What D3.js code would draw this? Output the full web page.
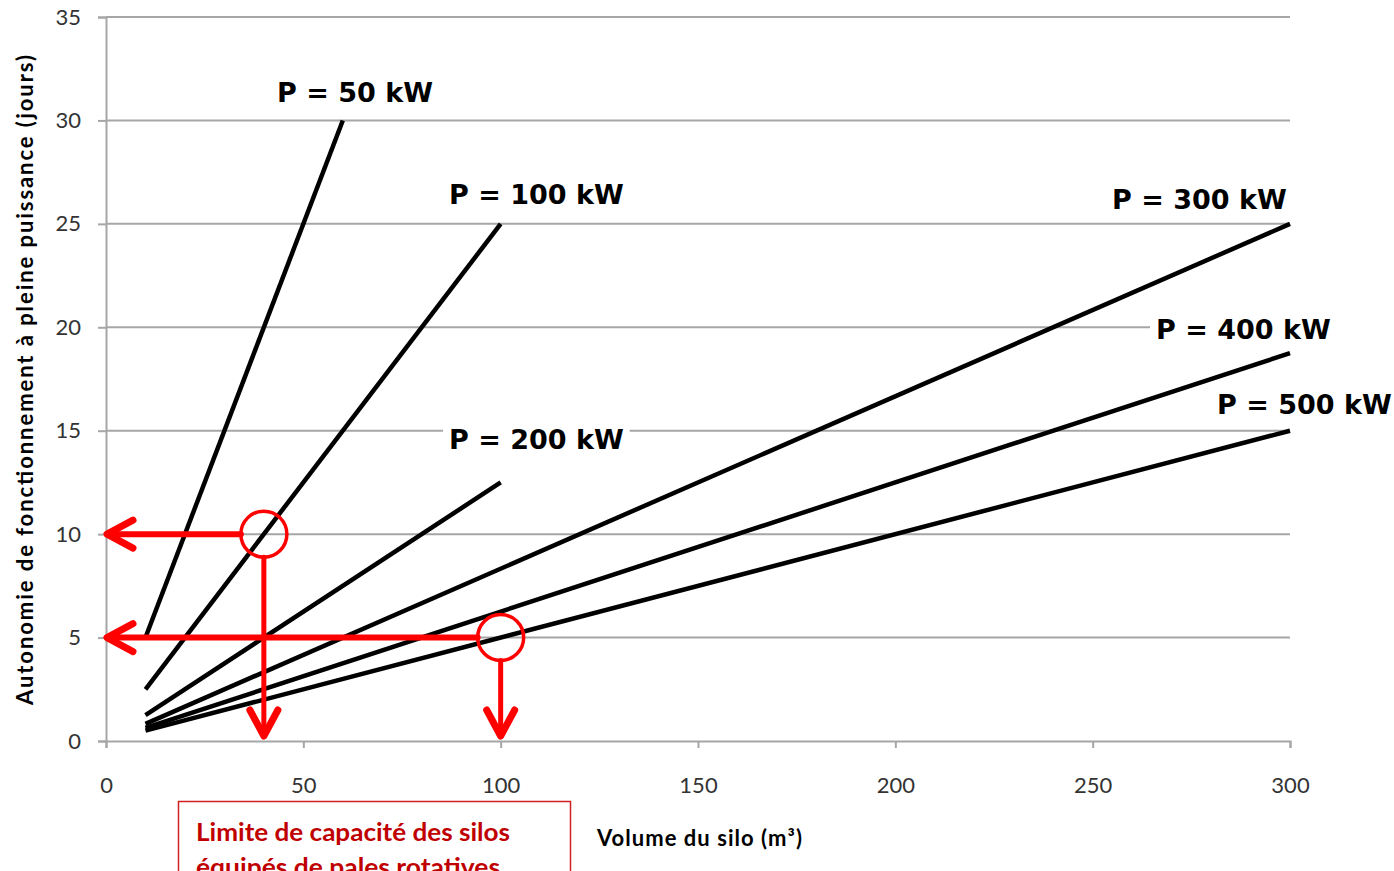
<!DOCTYPE html>
<html>
<head>
<meta charset="utf-8">
<script src="https://cdn.jsdelivr.net/npm/d3@7"></script>
<style>
  body { margin: 0; background: #fff; }
  svg { display: block; }
</style>
</head>
<body>
<div id="chart"></div>
<script>

// data
let powerLabels = ["P = 50 kW", "P = 100 kW", "P = 200 kW", "P = 300 kW", "P = 400 kW", "P = 500 kW"];
let volumeStart = [10, 10, 10, 10, 10, 10];
let volumeEnd   = [60, 100, 100, 300, 300, 300];
let daysStart   = [5, 2.5, 1.25, 0.83, 0.63, 0.5];
let daysEnd     = [30, 25, 12.5, 25, 18.75, 15];

let xTicks = [0, 50, 100, 150, 200, 250, 300];
let yTicks = [0, 5, 10, 15, 20, 25, 30, 35];

// red reading examples: [volume, days]
let readVolume = [40, 100];
let readDays   = [10, 5];

let boxLines = ["Limite de capacité des silos", "équipés de pales rotatives"];

function main(){

    let width = 1394;
    let height = 871;

    let svg = d3.select("#chart")
                .append("svg")
                .attr("width", width)
                .attr("height", height)

    let xScale = d3.scaleLinear().domain([0, 300]).range([106, 1290])
    let yScale = d3.scaleLinear().domain([0, 35]).range([741, 17])

    let grey = "#a6a6a6"
    let tickFont = "Lato, 'Open Sans', sans-serif"

    // horizontal grid
    svg.append("g")
        .selectAll("line")
        .data(yTicks.filter(d => d > 0))
        .enter()
        .append("line")
        .attr("x1", xScale(0))
        .attr("x2", xScale(300))
        .attr("y1", d => yScale(d))
        .attr("y2", d => yScale(d))
        .attr("stroke", grey)
        .attr("stroke-width", 2)

    let yAxis = d3.axisLeft(yScale).tickValues(yTicks).tickSize(8).tickPadding(17)
    let xAxis = d3.axisBottom(xScale).tickValues(xTicks).tickSize(7).tickPadding(45)

    let yG = svg.append("g").attr("transform", `translate(${xScale(0)},0)`).call(yAxis)
    let xG = svg.append("g").attr("transform", `translate(0,${yScale(0)})`).call(xAxis)

    ;[yG, xG].forEach(g => {
        g.select(".domain").attr("stroke", grey).attr("stroke-width", 2)
        g.selectAll(".tick line").attr("stroke", grey).attr("stroke-width", 2)
        g.selectAll(".tick text")
            .attr("fill", "#333")
            .style("font-family", tickFont)
            .style("font-size", "22px")
    })
    xG.selectAll(".tick text").attr("dy", "0")

    // power lines
    let series = powerLabels.map((p, i) => ({
        label: p,
        pts: [[volumeStart[i], daysStart[i]], [volumeEnd[i], daysEnd[i]]]
    }))

    let line = d3.line().x(d => xScale(d[0])).y(d => yScale(d[1]))

    svg.append("g")
        .selectAll("path")
        .data(series)
        .enter()
        .append("path")
        .attr("d", d => line(d.pts))
        .attr("fill", "none")
        .attr("stroke", "#000")
        .attr("stroke-width", 4.5)
        .attr("stroke-linecap", "butt")

    // label anchors in pixels (left x, centre y)
    let labelPos = [[277, 92], [449, 194], [449, 439], [1112, 199], [1156, 329], [1217, 404]]

    let labels = svg.append("g")
    series.forEach((s, i) => {
        let g = labels.append("g")
        let bg = g.append("rect").attr("fill", "#fff")
        let t = g.append("text")
                .attr("x", labelPos[i][0])
                .attr("y", labelPos[i][1])
                .attr("dy", "0.36em")
                .style("font-family", "'DejaVu Sans', Verdana, sans-serif")
                .style("font-weight", "bold")
                .style("font-size", "27px")
                .attr("fill", "#000")
                .text(s.label)
        let bb = t.node().getBBox()
        bg.attr("x", bb.x - 6).attr("y", bb.y).attr("width", bb.width + 12).attr("height", bb.height)
    })

    // red annotations
    let red = "#ff0000"
    let ann = svg.append("g")
                .attr("fill", "none")
                .attr("stroke", red)
                .attr("stroke-linecap", "round")
                .attr("stroke-linejoin", "round")
    let r = 23
    readVolume.forEach((v, i) => {
        let cx = xScale(v), cy = yScale(readDays[i])
        ann.append("circle").attr("cx", cx).attr("cy", cy).attr("r", r).attr("stroke-width", 3.5)
        // left arrow
        let tipX = xScale(0) + 1
        ann.append("path").attr("d", `M${cx - r},${cy}L${tipX},${cy}`).attr("stroke-width", 6)
        ann.append("path").attr("d", `M${tipX + 26},${cy - 14}L${tipX},${cy}L${tipX + 26},${cy + 14}`).attr("stroke-width", 7)
        // down arrow
        let tipY = yScale(0) - 5
        ann.append("path").attr("d", `M${cx},${cy + r}L${cx},${tipY}`).attr("stroke-width", 5)
        ann.append("path").attr("d", `M${cx - 14},${tipY - 26}L${cx},${tipY}L${cx + 14},${tipY - 26}`).attr("stroke-width", 7)
    })

    // axis titles
    svg.append("text")
        .attr("transform", "translate(33,380) rotate(-90)")
        .attr("text-anchor", "middle")
        .attr("textLength", 650)
        .attr("lengthAdjust", "spacing")
        .style("font-family", tickFont)
        .style("font-weight", "bold")
        .style("font-size", "22px")
        .attr("fill", "#000")
        .text("Autonomie de fonctionnement à pleine puissance  (jours)")

    svg.append("text")
        .attr("x", 597)
        .attr("y", 846)
        .attr("textLength", 205)
        .attr("lengthAdjust", "spacing")
        .style("font-family", tickFont)
        .style("font-weight", "bold")
        .style("font-size", "22px")
        .attr("fill", "#000")
        .text("Volume du silo (m³)")

    // note box at the bottom (cut by the frame, as in the source)
    svg.append("rect")
        .attr("x", 178.5)
        .attr("y", 801.5)
        .attr("width", 392)
        .attr("height", 120)
        .attr("fill", "#fff")
        .attr("stroke", "#d02020")
        .attr("stroke-width", 1.5)

    svg.append("g")
        .selectAll("text")
        .data(boxLines)
        .enter()
        .append("text")
        .attr("x", 196)
        .attr("y", (d, i) => 841 + i * 35)
        .attr("textLength", (d, i) => i == 0 ? 314 : 304)
        .attr("lengthAdjust", "spacingAndGlyphs")
        .style("font-family", tickFont)
        .style("font-weight", "bold")
        .style("font-size", "25px")
        .attr("fill", "#c00000")
        .text(d => d)
}

main()
</script>
</body>
</html>
